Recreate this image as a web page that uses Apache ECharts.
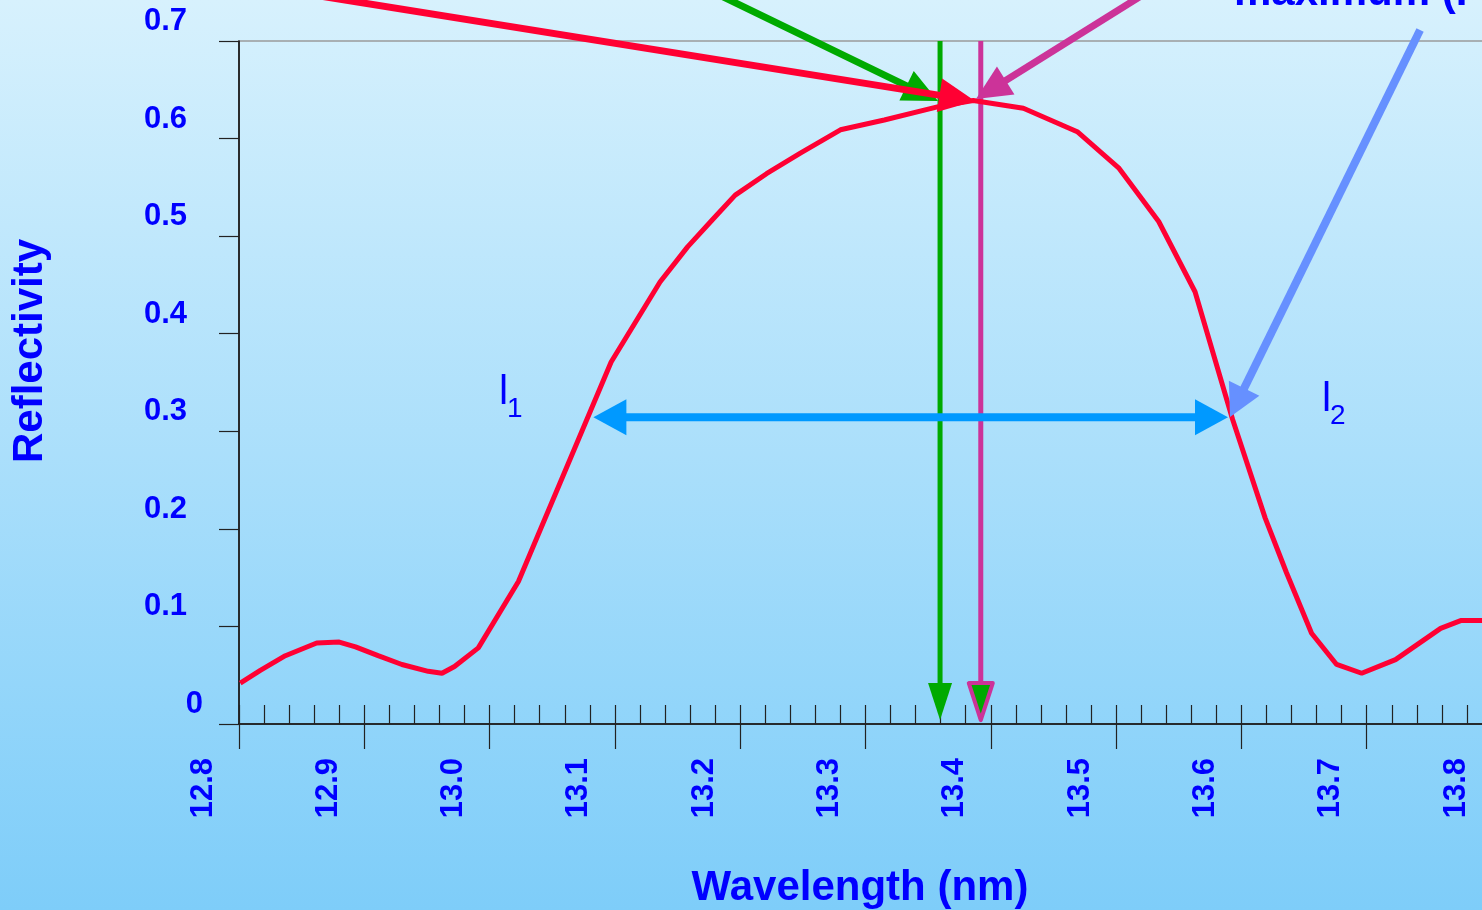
<!DOCTYPE html>
<html>
<head>
<meta charset="utf-8">
<script src="https://cdn.jsdelivr.net/npm/echarts@6/dist/echarts.min.js"></script>
<style>
  html, body { margin: 0; padding: 0; overflow: hidden; }
  #chart { width: 1482px; height: 910px; }
</style>
</head>
<body>
<div id="chart"></div>
<script>
// Measured reflectivity of the multilayer mirror around 13.4 nm
const wavelength = [12.801, 12.817, 12.837, 12.862, 12.880, 12.893, 12.911, 12.930, 12.951, 12.962,
                    12.972, 12.991, 13.023, 13.097, 13.136, 13.158, 13.178, 13.196, 13.221, 13.248,
                    13.280, 13.315, 13.359, 13.386, 13.426, 13.469, 13.502, 13.534, 13.563, 13.593,
                    13.619, 13.636, 13.656, 13.676, 13.696, 13.723, 13.759, 13.775, 13.800];
const reflectivity = [0.042, 0.055, 0.070, 0.083, 0.084, 0.079, 0.070, 0.061, 0.054, 0.052,
                      0.059, 0.078, 0.146, 0.371, 0.453, 0.489, 0.517, 0.542, 0.564, 0.585,
                      0.609, 0.619, 0.633, 0.639, 0.631, 0.607, 0.570, 0.515, 0.443, 0.312,
                      0.211, 0.155, 0.093, 0.061, 0.052, 0.066, 0.098, 0.106, 0.106];

// Axis ranges and tick steps
const xRange = [12.8, 13.8];
const xStep = 0.1;
const yRange = [0, 0.7];
const yStep = 0.1;

// Vertical guides: peak wavelength and centre wavelength (top -> tip)
const peakGuide = [[13.3595, 0.7], [13.3595, 0.004]];
const centreGuide = [[13.392, 0.7], [13.392, 0.004]];

// Pointer arrows (start -> tip) in wavelength / reflectivity units
const peakPointer = [[13.152, 0.7666], [13.3579, 0.6385]];
const centrePointer = [[13.5454, 0.7666], [13.3882, 0.6406]];
const maxPointer = [[12.729, 0.774], [13.3874, 0.6385]];
const halfPointer = [[13.7426, 0.7113], [13.5909, 0.3146]];
const widthSpan = [[13.0828, 0.3145], [13.5893, 0.3145]];

// Band edge labels λ1 / λ2 and the FWHM note
const edgeLabelX = [13.0075, 13.6643];
const edgeLabelY = [0.3393, 0.3321];
const edgeLabelSub = ['1', '2'];
const noteText = 'maximum (FWHM)';
const notePos = [13.5941, 0.7489];

const FONT = '"Liberation Sans", Arial, Helvetica, sans-serif';
const BLUE = '#0000ff';

const guideStyles = [
  { color: '#00aa00', width: 5, head: 37, headWidth: 24, fill: '#00aa00' },
  { color: '#cc3399', width: 5, head: 37, headWidth: 24, fill: '#00aa00', outline: 4 }
];
const pointerStyles = [
  { color: '#00aa00', width: 7, head: 35, headWidth: 33 },
  { color: '#cc3399', width: 7, head: 35, headWidth: 33 },
  { color: '#ff0033', width: 7, head: 36, headWidth: 34 },
  { color: '#6690ff', width: 8, head: 32, headWidth: 34 },
  { color: '#0099ff', width: 8, head: 33, headWidth: 36, both: true }
];

const guideData = [peakGuide, centreGuide].map((s, i) => [s[0][0], s[0][1], s[1][0], s[1][1], i]);
const pointerData = [peakPointer, centrePointer, maxPointer, halfPointer, widthSpan]
  .map((s, i) => [s[0][0], s[0][1], s[1][0], s[1][1], i]);
const labelData = edgeLabelX.map((x, i) => [x, edgeLabelY[i], i]);

function arrowHead(tip, ux, uy, st) {
  const bx = tip[0] - ux * st.head, by = tip[1] - uy * st.head;
  const px = -uy * st.headWidth / 2, py = ux * st.headWidth / 2;
  return {
    type: 'polygon',
    shape: { points: [[tip[0], tip[1]], [bx + px, by + py], [bx - px, by - py]] },
    style: {
      fill: st.fill || st.color,
      stroke: st.outline ? st.color : null,
      lineWidth: st.outline || 0,
      lineJoin: 'round'
    }
  };
}

function renderArrow(styles) {
  return function (params, api) {
    const st = styles[api.value(4)];
    const p0 = api.coord([api.value(0), api.value(1)]);
    const p1 = api.coord([api.value(2), api.value(3)]);
    const dx = p1[0] - p0[0], dy = p1[1] - p0[1];
    const len = Math.hypot(dx, dy);
    const ux = dx / len, uy = dy / len;
    const cut = st.head * 0.85;
    const s = st.both ? [p0[0] + ux * cut, p0[1] + uy * cut] : p0;
    const e = [p1[0] - ux * cut, p1[1] - uy * cut];
    const children = [{
      type: 'line',
      shape: { x1: s[0], y1: s[1], x2: e[0], y2: e[1] },
      style: { stroke: st.color, lineWidth: st.width }
    }, arrowHead(p1, ux, uy, st)];
    if (st.both) children.push(arrowHead(p0, -ux, -uy, st));
    return { type: 'group', children: children };
  };
}

const chart = echarts.init(document.getElementById('chart'));

const option = {
  animation: false,
  backgroundColor: new echarts.graphic.LinearGradient(0, 0, 0, 1, [
    { offset: 0, color: '#d7f1fd' },
    { offset: 1, color: '#7ecdf9' }
  ]),
  grid: {
    left: 239, top: 41, width: 1253, height: 683,
    show: true, borderColor: '#9a9a9a', borderWidth: 1.5,
    backgroundColor: 'transparent',
    containLabel: false, outerBoundsMode: 'none'
  },
  xAxis: [{
    type: 'value', min: xRange[0], max: xRange[1], interval: xStep, position: 'bottom',
    axisLine: { show: true, onZero: false, lineStyle: { color: '#000', width: 1.5 } },
    axisTick: { show: true, inside: true, length: 19, lineStyle: { color: '#222', width: 1.2 } },
    minorTick: { show: true, splitNumber: 5, length: 19, lineStyle: { color: '#222', width: 1.2 } },
    splitLine: { show: false },
    minorSplitLine: { show: false },
    axisLabel: {
      show: true, rotate: 90, margin: 34, showMinLabel: true, showMaxLabel: true,
      formatter: v => v.toFixed(1),
      color: BLUE, fontSize: 31, fontWeight: 'bold', fontFamily: FONT,
      verticalAlign: 'bottom', lineHeight: 72
    }
  }, {
    type: 'value', min: xRange[0], max: xRange[1], interval: xStep, position: 'bottom',
    axisLine: { show: false, onZero: false },
    axisTick: { show: true, inside: false, length: 25, lineStyle: { color: '#222', width: 1.2 } },
    splitLine: { show: false },
    axisLabel: { show: false }
  }],
  yAxis: {
    type: 'value', min: yRange[0], max: yRange[1], interval: yStep,
    axisLine: { show: true, onZero: false, lineStyle: { color: '#000', width: 1.5 } },
    axisTick: { show: true, inside: false, length: 20, lineStyle: { color: '#222', width: 1.2 } },
    splitLine: { show: false },
    axisLabel: {
      show: true, margin: 36, showMinLabel: true, showMaxLabel: true,
      formatter: v => (v === 0 ? '{z|0}' : '{n|' + v.toFixed(1) + '}'),
      verticalAlign: 'bottom', lineHeight: 39,
      color: BLUE, fontSize: 31, fontWeight: 'bold', fontFamily: FONT,
      rich: {
        n: { color: BLUE, fontSize: 31, fontWeight: 'bold', fontFamily: FONT, lineHeight: 39, padding: [0, 16, 0, 0] },
        z: { color: BLUE, fontSize: 31, fontWeight: 'bold', fontFamily: FONT, lineHeight: 39 }
      }
    }
  },
  graphic: [{
    type: 'text', x: 30, y: 351, rotation: Math.PI / 2,
    style: { text: 'Reflectivity', font: 'bold 42px ' + FONT, fill: BLUE, align: 'center', verticalAlign: 'middle' }
  }, {
    type: 'text', x: 860, y: 888,
    style: { text: 'Wavelength (nm)', font: 'bold 42px ' + FONT, fill: BLUE, align: 'center', verticalAlign: 'middle' }
  }],
  series: [{
    name: 'guides', type: 'custom', coordinateSystem: 'cartesian2d', z: 1, clip: false,
    renderItem: renderArrow(guideStyles),
    encode: { x: [0, 2], y: [1, 3] },
    data: guideData, silent: true
  }, {
    name: 'Reflectivity', type: 'line', z: 2,
    data: wavelength.map((w, i) => [w, reflectivity[i]]),
    showSymbol: false, symbol: 'none',
    lineStyle: { color: '#ff0033', width: 5 }
  }, {
    name: 'pointers', type: 'custom', coordinateSystem: 'cartesian2d', z: 3, clip: false,
    renderItem: renderArrow(pointerStyles),
    encode: { x: [0, 2], y: [1, 3] },
    data: pointerData, silent: true
  }, {
    name: 'labels', type: 'custom', coordinateSystem: 'cartesian2d', z: 4, clip: false,
    renderItem: function (params, api) {
      const p = api.coord([api.value(0), api.value(1)]);
      const sub = edgeLabelSub[api.value(2)];
      return {
        type: 'group',
        children: [{
          type: 'text', x: p[0], y: p[1],
          style: { text: 'l', font: '41px ' + FONT, fill: BLUE, align: 'left', verticalAlign: 'middle' }
        }, {
          type: 'text', x: p[0] + 8, y: p[1] + 16,
          style: { text: sub, font: '28px ' + FONT, fill: BLUE, align: 'left', verticalAlign: 'middle' }
        }]
      };
    },
    encode: { x: 0, y: 1 },
    data: labelData, silent: true
  }, {
    name: 'note', type: 'custom', coordinateSystem: 'cartesian2d', z: 4, clip: false,
    renderItem: function (params, api) {
      const p = api.coord([api.value(0), api.value(1)]);
      return {
        type: 'text', x: p[0], y: p[1],
        style: { text: noteText, font: 'bold 42px ' + FONT, fill: BLUE, align: 'left', verticalAlign: 'middle' }
      };
    },
    encode: { x: 0, y: 1 },
    data: [notePos], silent: true
  }]
};

chart.setOption(option);
</script>
</body>
</html>
